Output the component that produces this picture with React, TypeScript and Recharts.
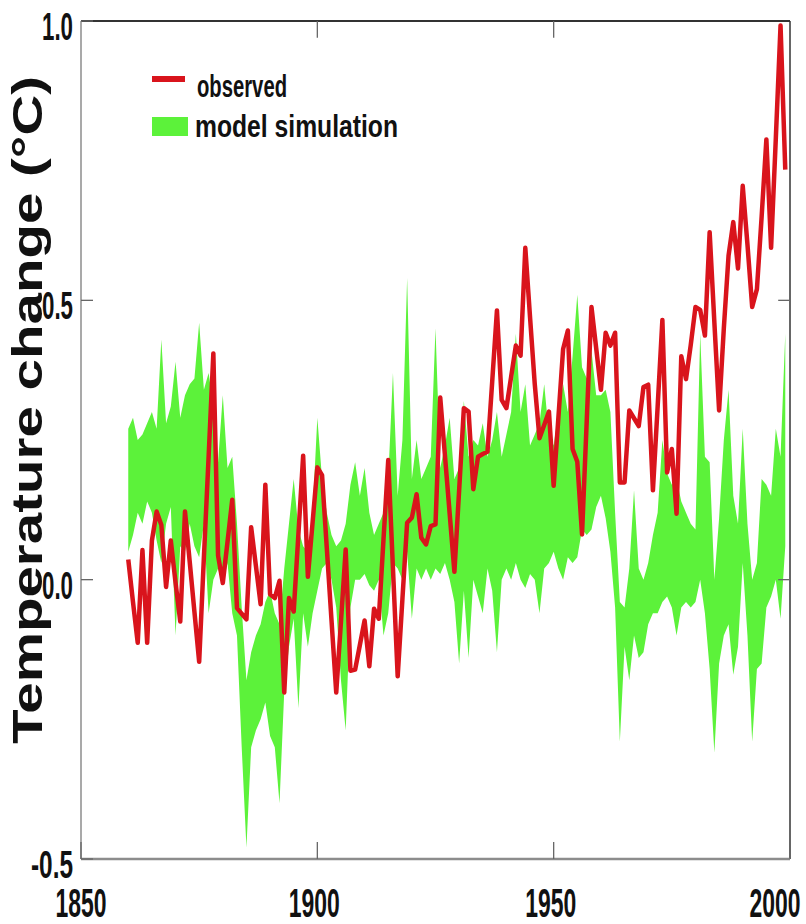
import React from 'react';
import { ComposedChart, Area, Line, XAxis, YAxis, Legend, ReferenceLine } from 'recharts';

const FIRST_YEAR = 1860;

// Observed annual temperature change (°C), 1860–1999
const observed = [
  0.036, -0.04, -0.113, 0.053, -0.113, 0.07, 0.122, 0.098, -0.013, 0.07,
  -0.005, -0.075, 0.122, 0.032, -0.058, -0.147, 0.04, 0.22, 0.405, 0.043,
  -0.006, 0.068, 0.143, -0.051, -0.061, -0.071, 0.094, 0.025, -0.044, 0.17,
  -0.026, -0.033, -0.002, -0.202, -0.033, -0.057, 0.082, 0.222, 0.005, 0.103,
  0.201, 0.187, 0.057, -0.073, -0.202, -0.075, 0.054, -0.163, -0.161, -0.117,
  -0.073, -0.155, -0.052, -0.07, 0.072, 0.214, 0.02, -0.173, -0.035, 0.102,
  0.111, 0.153, 0.075, 0.063, 0.096, 0.099, 0.326, 0.222, 0.118, 0.014,
  0.16, 0.307, 0.301, 0.162, 0.22, 0.225, 0.229, 0.355, 0.482, 0.322,
  0.307, 0.363, 0.419, 0.401, 0.594, 0.47, 0.35, 0.253, 0.277, 0.301,
  0.168, 0.29, 0.413, 0.446, 0.234, 0.211, 0.081, 0.285, 0.488, 0.414,
  0.34, 0.442, 0.419, 0.442, 0.174, 0.174, 0.303, 0.289, 0.275, 0.345,
  0.349, 0.16, 0.31, 0.465, 0.192, 0.234, 0.118, 0.4, 0.359, 0.42,
  0.488, 0.483, 0.437, 0.622, 0.46, 0.303, 0.45, 0.58, 0.64, 0.557,
  0.705, 0.6, 0.488, 0.52, 0.65, 0.788, 0.594, 0.79, 0.992, 0.734,
];

// Model simulation range: lower edge
const modelLow = [
  0.05, 0.08, 0.12, 0.1, 0.14, 0.12, 0.07, 0.03, 0.1, 0.13,
  -0.1, 0.06, 0.05, 0.1, 0.06, 0.04, 0.1, -0.06, 0.0, 0.02,
  -0.01, 0.03, -0.06, -0.1, -0.3, -0.48, -0.3, -0.27, -0.25, -0.22,
  -0.28, -0.3, -0.4, -0.2, -0.12, -0.07, -0.23, -0.06, -0.12, -0.06,
  -0.02, 0.02, 0.03, 0.0, -0.05, -0.18, -0.27, -0.05, 0.0, 0.0,
  0.01, -0.01, -0.02, 0.0, -0.1, -0.06, 0.03, 0.02, 0.0, 0.05,
  -0.07, 0.02, 0.0, 0.02, 0.0, 0.02, 0.01, 0.03, 0.0, -0.04,
  -0.15, -0.02, -0.14, 0.0, -0.03, -0.06, 0.02, -0.02, -0.13, 0.0,
  0.02, 0.0, 0.03, 0.0, -0.015, 0.01, 0.0, -0.06, 0.02, 0.03,
  0.05, 0.02, 0.0, 0.04, 0.03, 0.04, 0.09, 0.08, 0.09, 0.13,
  0.15, 0.11, 0.05, -0.05, -0.29, -0.12, -0.18, -0.1, -0.14, -0.13,
  -0.08, -0.06, -0.06, -0.04, -0.03, -0.05, -0.1, -0.05, -0.04, -0.05,
  -0.04, 0.0, -0.06, -0.16, -0.31, -0.15, -0.1, -0.08, -0.17, -0.12,
  0.03, -0.1, -0.29, -0.16, -0.15, -0.05, -0.03, 0.0, -0.07, 0.06,
];

// Model simulation range: upper edge
const modelHigh = [
  0.27, 0.29, 0.25, 0.26, 0.28, 0.3, 0.27, 0.43, 0.28, 0.31,
  0.39, 0.29, 0.33, 0.35, 0.36, 0.46, 0.34, 0.37, 0.31, 0.21,
  0.33, 0.2, 0.22, 0.1, -0.05, -0.18, -0.13, -0.1, -0.08, -0.04,
  -0.02, -0.06, -0.08, 0.02, 0.1, 0.18, 0.09, 0.06, 0.05, 0.12,
  0.29, 0.18, 0.12, 0.08, 0.06, 0.07, 0.1, 0.17, 0.21, 0.15,
  0.2, 0.12, 0.08, 0.1, 0.12, 0.18, 0.37, 0.15, 0.25, 0.54,
  0.18, 0.25, 0.18, 0.2, 0.22, 0.45, 0.2, 0.24, 0.29, 0.18,
  0.2, 0.32, 0.22, 0.25, 0.24, 0.28, 0.22, 0.25, 0.3, 0.22,
  0.26, 0.3, 0.44, 0.3, 0.35, 0.24, 0.26, 0.28, 0.35, 0.26,
  0.24, 0.3, 0.35, 0.3, 0.4, 0.51, 0.38, 0.36, 0.41, 0.33,
  0.33, 0.34, 0.3, 0.12, -0.04, -0.05, 0.02, 0.16, 0.02, 0.0,
  0.03, 0.08, 0.12, 0.25, 0.19, 0.17, 0.18, 0.14, 0.12, 0.1,
  0.09, 0.44, 0.22, 0.21, 0.0, 0.11, 0.25, 0.34, 0.15, 0.1,
  0.27, 0.1, 0.0, 0.03, 0.18, 0.17, 0.15, 0.27, 0.22, 0.44,
];

const xTicks = [1850, 1900, 1950, 2000];
const xTickLabels = ['1850', '1900', '1950', '2000'];
const yTicks = [-0.5, 0, 0.5, 1.0];
const yTickLabels = ['-0.5', '0.0', '0.5', '1.0'];
const X_MIN = 1850;
const X_MAX = 2000;
const Y_MIN = -0.5;
const Y_MAX = 1.0;

const seriesNames = { observed: 'observed', model: 'model simulation' };
const axisTitle = 'Temperature change (°C)';

const data = observed.map((v, i) => ({
  year: FIRST_YEAR + i,
  observed: v,
  model: [modelLow[i], modelHigh[i]],
}));

const FONT = '"Liberation Sans", Arial, Helvetica, sans-serif';
const RED = '#d9141c';
const GREEN = '#5cf23a';
const INK = '#111';
const FRAME = '#333';
const TICK = '#666';

const BottomTick = (props: any) => {
  const { x, y, payload } = props;
  const v = payload.value;
  const idx = xTicks.indexOf(v);
  const label = idx >= 0 ? xTickLabels[idx] : String(v);
  const dx = v === 2000 ? -15 : v === 1850 ? 0 : -3;
  return (
    <g>
      <line x1={x} y1={y} x2={x} y2={y - 17} stroke={TICK} strokeWidth={1.3} />
      <text
        transform={`translate(${x + dx},${y + 58}) scale(1,1.65)`}
        textAnchor="middle"
        fontFamily={FONT}
        fontWeight={700}
        fontSize={24.5}
        textLength={51}
        lengthAdjust="spacingAndGlyphs"
        fill={INK}
      >
        {label}
      </text>
    </g>
  );
};

const LeftTick = (props: any) => {
  const { x, y, payload } = props;
  const v = payload.value;
  const idx = yTicks.indexOf(v);
  const label = idx >= 0 ? yTickLabels[idx] : String(v);
  const len = label.length === 4 ? 42 : 31;
  return (
    <g>
      <line x1={x} y1={y} x2={x + 12} y2={y} stroke={TICK} strokeWidth={1.3} />
      <text
        transform={`translate(${x - 8},${y + 19}) scale(1,1.65)`}
        textAnchor="end"
        fontFamily={FONT}
        fontWeight={700}
        fontSize={23.5}
        textLength={len}
        lengthAdjust="spacingAndGlyphs"
        fill={INK}
      >
        {label}
      </text>
    </g>
  );
};

const AxisTitle = () => (
  <text
    transform="translate(42,410) rotate(-90)"
    textAnchor="middle"
    fontFamily={FONT}
    fontWeight={700}
    fontSize={42}
    textLength={668}
    lengthAdjust="spacingAndGlyphs"
    fill={INK}
  >
    {axisTitle}
  </text>
);

const LegendContent = () => (
  <svg width={806} height={150} style={{ display: 'block', pointerEvents: 'none', background: 'transparent' }}>
    <rect x={152} y={76} width={33} height={6} fill={RED} />
    <text
      x={197}
      y={97}
      fontFamily={FONT}
      fontWeight={700}
      fontSize={32}
      textLength={90}
      lengthAdjust="spacingAndGlyphs"
      fill={INK}
    >
      {seriesNames.observed}
    </text>
    <rect x={152} y={117} width={36} height={19} fill={GREEN} />
    <text
      x={195}
      y={137}
      fontFamily={FONT}
      fontWeight={700}
      fontSize={32}
      textLength={203}
      lengthAdjust="spacingAndGlyphs"
      fill={INK}
    >
      {seriesNames.model}
    </text>
  </svg>
);

// inward tick marks on the mirrored (top and right) sides of the frame
const topTickYears = [1900, 1950];
const rightTickValues = [0, 0.5];

export default function App() {
  return (
    <div style={{ position: 'absolute', left: 0, top: 0, width: 806, height: 924, background: '#fff' }}>
      <ComposedChart
        width={806}
        height={924}
        data={data}
        margin={{ top: 21, right: 16, bottom: 0, left: 0 }}
      >
        <XAxis
          xAxisId="bottom"
          type="number"
          dataKey="year"
          domain={[X_MIN, X_MAX]}
          ticks={xTicks}
          interval={0}
          height={65}
          tickSize={0}
          tickMargin={0}
          tickLine={false}
          axisLine={{ stroke: '#8c8c8c', strokeWidth: 2.5 }}
          tick={<BottomTick />}
          allowDataOverflow
        />
        <YAxis
          yAxisId="left"
          type="number"
          domain={[Y_MIN, Y_MAX]}
          ticks={yTicks}
          interval={0}
          width={81}
          tickSize={0}
          tickMargin={0}
          tickLine={false}
          axisLine={{ stroke: '#8c8c8c', strokeWidth: 1.5 }}
          tick={<LeftTick />}
          label={<AxisTitle />}
          allowDataOverflow
        />
        <Area
          xAxisId="bottom"
          yAxisId="left"
          type="linear"
          dataKey="model"
          name={seriesNames.model}
          stroke="none"
          fill={GREEN}
          fillOpacity={1}
          isAnimationActive={false}
        />
        <Line
          xAxisId="bottom"
          yAxisId="left"
          type="linear"
          dataKey="observed"
          name={seriesNames.observed}
          stroke={RED}
          strokeWidth={4.5}
          strokeLinejoin="round"
          dot={false}
          activeDot={false}
          isAnimationActive={false}
        />
        <ReferenceLine xAxisId="bottom" yAxisId="left" y={Y_MAX} stroke={FRAME} strokeWidth={2} ifOverflow="visible" />
        <ReferenceLine xAxisId="bottom" yAxisId="left" x={X_MAX} stroke={FRAME} strokeWidth={1.5} ifOverflow="visible" />
        {topTickYears.map((yr) => (
          <ReferenceLine
            key={`tt${yr}`}
            xAxisId="bottom"
            yAxisId="left"
            segment={[{ x: yr, y: Y_MAX }, { x: yr, y: Y_MAX - 0.03 }]}
            stroke={TICK}
            strokeWidth={1.3}
            ifOverflow="visible"
          />
        ))}
        {rightTickValues.map((v) => (
          <ReferenceLine
            key={`rt${v}`}
            xAxisId="bottom"
            yAxisId="left"
            segment={[{ x: X_MAX, y: v }, { x: X_MAX - 2.5, y: v }]}
            stroke={TICK}
            strokeWidth={1.3}
            ifOverflow="visible"
          />
        ))}
        <Legend
          layout="vertical"
          align="center"
          verticalAlign="middle"
          content={<LegendContent />}
          wrapperStyle={{ left: 0, top: 0, width: 806, height: 150, background: 'transparent' }}
        />
      </ComposedChart>
    </div>
  );
}
